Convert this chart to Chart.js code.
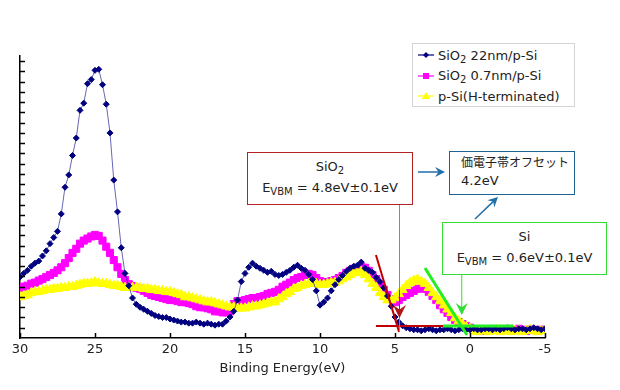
<!DOCTYPE html>
<html>
<head>
<meta charset="utf-8">
<script src="https://cdn.jsdelivr.net/npm/chart.js@4.4.0/dist/chart.umd.min.js"></script>
<style>
body { margin: 0; background: #fff; }
#wrap { position: relative; width: 620px; height: 390px; font-family: 'DejaVu Sans', 'Noto Sans CJK JP', sans-serif; color: #222; }
#chart { position: absolute; left: 0; top: 0; }
.box { position: absolute; background: #fff; box-sizing: border-box; font-size: 13px; line-height: 21px; }
.box sub { font-size: 10px; vertical-align: -3px; line-height: 0; }
#legend { left: 412px; top: 43px; width: 163px; height: 64px; border: 1px solid #d4d4d4; padding-top: 1px; }
#legend .row { height: 20.5px; display: flex; align-items: center; white-space: nowrap; }
#legend svg { margin: 0 4px 0 5px; }
#boxSio2 { left: 247px; top: 152px; width: 166px; height: 53px; border: 1.5px solid #b22222; text-align: center; padding-top: 3px; }
#boxOffset { left: 449px; top: 151px; width: 126px; height: 44px; border: 1.5px solid #1f6391; padding: 1px 0 0 11px; line-height: 18px; }
#boxOffset .jp { font-family: 'Noto Sans CJK JP', sans-serif; font-size: 12px; }
#boxSi { left: 442px; top: 222px; width: 165px; height: 53px; border: 1.5px solid #33dd33; text-align: center; padding-top: 3px; }
</style>
</head>
<body>
<div id="wrap">
  <canvas id="chart" width="620" height="390"></canvas>
  <div class="box" id="legend"></div>
  <div class="box" id="boxSio2">SiO<sub>2</sub><br>E<sub>VBM</sub> = 4.8eV±0.1eV</div>
  <div class="box" id="boxOffset"><span class="jp">価電子帯オフセット</span><br>4.2eV</div>
  <div class="box" id="boxSi">Si<br>E<sub>VBM</sub> = 0.6eV±0.1eV</div>
</div>
<script>
// binding energy (eV), pasos de 0.25 eV
const energia = [
  30, 29.75, 29.5, 29.25, 29, 28.75, 28.5, 28.25, 28, 27.75,
  27.5, 27.25, 27, 26.75, 26.5, 26.25, 26, 25.75, 25.5, 25.25,
  25, 24.75, 24.5, 24.25, 24, 23.75, 23.5, 23.25, 23, 22.75,
  22.5, 22.25, 22, 21.75, 21.5, 21.25, 21, 20.75, 20.5, 20.25,
  20, 19.75, 19.5, 19.25, 19, 18.75, 18.5, 18.25, 18, 17.75,
  17.5, 17.25, 17, 16.75, 16.5, 16.25, 16, 15.75, 15.5, 15.25,
  15, 14.75, 14.5, 14.25, 14, 13.75, 13.5, 13.25, 13, 12.75,
  12.5, 12.25, 12, 11.75, 11.5, 11.25, 11, 10.75, 10.5, 10.25,
  10, 9.75, 9.5, 9.25, 9, 8.75, 8.5, 8.25, 8, 7.75,
  7.5, 7.25, 7, 6.75, 6.5, 6.25, 6, 5.75, 5.5, 5.25,
  5, 4.75, 4.5, 4.25, 4, 3.75, 3.5, 3.25, 3, 2.75,
  2.5, 2.25, 2, 1.75, 1.5, 1.25, 1, 0.75, 0.5, 0.25,
  0, -0.25, -0.5, -0.75, -1, -1.25, -1.5, -1.75, -2, -2.25,
  -2.5, -2.75, -3, -3.25, -3.5, -3.75, -4, -4.25, -4.5, -4.75,
  -5];

// intensidades (unidades arbitrarias)
const sio2_22nm = [
  5.95, 6.3, 6.6, 7.0, 7.3, 7.5, 8.0, 8.5, 9.2, 9.8,
  10.4, 12.1, 14.7, 15.9, 17.8, 19.5, 22.2, 22.9, 24.8, 25.2,
  26.1, 26.2, 24.7, 22.8, 20.0, 15.4, 12.3, 8.8, 6.3, 5.1,
  3.9, 3.3, 3.0, 2.8, 2.6, 2.4, 2.2, 2.1, 2.0, 2.0,
  1.85, 1.75, 1.65, 1.55, 1.55, 1.45, 1.45, 1.55, 1.45, 1.35,
  1.45, 1.35, 1.25, 1.35, 1.35, 1.65, 2.05, 2.6, 3.7, 5.5,
  6.3, 6.9, 7.3, 7.0, 6.8, 6.6, 6.4, 6.5, 6.2, 6.1,
  6.2, 6.4, 6.6, 6.9, 7.1, 6.8, 6.6, 6.2, 5.7, 4.6,
  3.2, 3.5, 3.9, 4.6, 5.2, 5.7, 6.1, 6.5, 6.8, 7.0,
  7.1, 7.4, 6.8, 6.6, 6.4, 5.9, 5.5, 4.9, 4.1, 3.1,
  2.05, 1.55, 1.2, 1.0, 0.9, 0.8, 0.8, 0.7, 0.8, 0.9,
  0.8, 0.7, 0.8, 0.8, 0.9, 0.8, 0.7, 0.8, 0.9, 0.8,
  0.8, 0.9, 0.8, 0.8, 0.9, 0.9, 0.8, 0.9, 0.8, 0.9,
  1.0, 0.9, 0.8, 0.9, 0.9, 0.8, 0.9, 1.0, 0.9, 0.8,
  0.9];

const sio2_07nm = [
  4.9, 5.0, 5.1, 5.3, 5.4, 5.6, 5.75, 5.95, 6.15, 6.35,
  6.6, 6.9, 7.3, 7.8, 8.3, 8.7, 9.2, 9.5, 9.7, 9.9,
  10.05, 9.95, 9.5, 8.9, 8.3, 7.6, 6.9, 6.25, 5.65, 5.25,
  5.05, 4.9, 4.8, 4.6, 4.4, 4.2, 4.1, 4.0, 3.9, 3.8,
  3.7, 3.7, 3.6, 3.5, 3.5, 3.4, 3.3, 3.1, 3.0, 3.0,
  2.9, 2.8, 2.6, 2.6, 2.5, 2.5, 2.6, 3.3, 3.6, 3.6,
  3.7, 3.8, 3.9, 3.9, 4.0, 4.1, 4.3, 4.4, 4.5, 4.7,
  5.0, 5.2, 5.4, 5.65, 5.85, 5.95, 6.15, 6.25, 6.15, 5.85,
  5.55, 5.45, 5.45, 5.55, 5.65, 5.85, 6.05, 6.35, 6.55, 6.75,
  6.85, 6.95, 6.85, 6.55, 6.15, 5.75, 5.2, 4.7, 4.2, 3.8,
  3.5, 3.7, 4.0, 4.2, 4.4, 4.6, 4.8, 4.9, 4.8, 4.5,
  4.1, 3.7, 3.2, 2.8, 2.45, 2.05, 1.75, 1.55, 1.35, 1.15,
  1.0, 0.8, 0.8, 0.7, 0.8, 0.7, 0.8, 0.8, 0.7, 0.8,
  0.8, 0.7, 0.8, 0.9, 0.8, 0.7, 0.8, 0.8, 0.7, 0.8,
  0.8];

const pSi_H = [
  4.0, 4.1, 4.2, 4.4, 4.5, 4.5, 4.6, 4.7, 4.7, 4.8,
  4.8, 4.9, 4.9, 5.0, 5.0, 5.1, 5.2, 5.3, 5.3, 5.35,
  5.45, 5.35, 5.3, 5.3, 5.2, 5.1, 5.1, 5.0, 4.9, 4.9,
  4.9, 4.9, 4.9, 4.8, 4.8, 4.7, 4.7, 4.6, 4.6, 4.5,
  4.5, 4.4, 4.3, 4.2, 4.0, 4.0, 3.9, 3.8, 3.7, 3.6,
  3.5, 3.5, 3.4, 3.3, 3.2, 3.1, 3.0, 3.0, 2.9, 2.9,
  2.9, 3.0, 3.1, 3.1, 3.2, 3.3, 3.4, 3.5, 3.5, 3.8,
  4.0, 4.3, 4.5, 4.8, 4.9, 5.1, 5.2, 5.3, 5.4, 5.3,
  5.2, 5.2, 5.3, 5.4, 5.4, 5.55, 5.75, 5.95, 6.15, 6.35,
  6.35, 6.45, 6.15, 5.75, 5.3, 4.9, 4.4, 4.0, 3.7, 3.7,
  3.9, 4.3, 4.7, 5.1, 5.4, 5.6, 5.7, 5.5, 5.3, 4.9,
  4.4, 4.0, 3.6, 3.2, 2.8, 2.45, 1.95, 1.65, 1.35, 1.05,
  0.9, 0.7, 0.6, 0.7, 0.7, 0.6, 0.7, 0.8, 0.6, 0.7,
  0.7, 0.6, 0.7, 0.7, 0.6, 0.7, 0.8, 0.7, 0.6, 0.7,
  0.7];

// rectas de extrapolacion (VBM)
const rojaX = [6.27, 4.73];
const rojaY = [8.1, 0.6];
const rojaBaseX = [6.27, 1.8];
const rojaBaseY = [1.17, 1.17];
const verdeX = [3.0, 0.2];
const verdeY = [6.83, 0.3];
const verdeBaseX = [1.8, -2.87];
const verdeBaseY = [1.17, 1.17];

const xTicks = [30, 25, 20, 15, 10, 5, 0, -5];

function puntos(xs, ys) {
    return xs.map((x, i) => ({ x: x, y: ys[i] }));
}

const series = [
    { label: 'SiO₂ 22nm/p-Si', data: sio2_22nm, color: '#000080', line: 'rgba(0,0,128,0.6)', style: 'rectRot', radius: 3, order: 1 },
    { label: 'SiO₂ 0.7nm/p-Si', data: sio2_07nm, color: '#ff00ff', line: '#ff00ff', style: 'rect', radius: 5, order: 3 },
    { label: 'p-Si(H-terminated)', data: pSi_H, color: '#ffff00', line: '#ffff00', style: 'triangle', radius: 5.5, order: 2 }
];

const datasets = series.map(s => ({
    label: s.label,
    data: puntos(energia, s.data),
    borderColor: s.line,
    backgroundColor: s.color,
    pointBorderColor: s.color,
    pointBackgroundColor: s.color,
    pointStyle: s.style,
    pointRadius: s.radius,
    borderWidth: 1,
    tension: 0,
    order: s.order
}));

datasets.push(
    { data: puntos(rojaX, rojaY), borderColor: '#c00000', borderWidth: 2, pointRadius: 0, order: 0 },
    { data: puntos(rojaBaseX, rojaBaseY), borderColor: '#c00000', borderWidth: 2, pointRadius: 0, order: 0 },
    { data: puntos(verdeX, verdeY), borderColor: '#22ee22', borderWidth: 3, pointRadius: 0, order: 0 },
    { data: puntos(verdeBaseX, verdeBaseY), borderColor: '#22ee22', borderWidth: 3, pointRadius: 0, order: 0 }
);

// flecha con punta rellena
function flecha(ctx, x1, y1, x2, y2, color, ancho, punta) {
    const ang = Math.atan2(y2 - y1, x2 - x1);
    ctx.save();
    ctx.strokeStyle = color;
    ctx.fillStyle = color;
    ctx.lineWidth = ancho;
    ctx.beginPath();
    ctx.moveTo(x1, y1);
    ctx.lineTo(x2 - Math.cos(ang) * punta * 0.6, y2 - Math.sin(ang) * punta * 0.6);
    ctx.stroke();
    ctx.translate(x2, y2);
    ctx.rotate(ang);
    ctx.beginPath();
    ctx.moveTo(0, 0);
    ctx.lineTo(-punta, -punta * 0.5);
    ctx.lineTo(-punta * 0.65, 0);
    ctx.lineTo(-punta, punta * 0.5);
    ctx.closePath();
    ctx.fill();
    ctx.restore();
}

const anotaciones = {
    id: 'anotaciones',
    afterDatasetsDraw(chart) {
        const ctx = chart.ctx;
        const area = chart.chartArea;
        const xs = chart.scales.x;
        const ys = chart.scales.y;

        // marcas de los ejes hacia adentro
        ctx.save();
        ctx.strokeStyle = '#000';
        ctx.lineWidth = 1.5;
        ys.ticks.forEach(t => {
            if (t.value === 0) return;
            const y = Math.round(ys.getPixelForValue(t.value)) + 0.5;
            ctx.beginPath();
            ctx.moveTo(area.left, y);
            ctx.lineTo(area.left + 5, y);
            ctx.stroke();
        });
        xTicks.forEach(v => {
            const x = Math.round(xs.getPixelForValue(v)) + 0.5;
            ctx.beginPath();
            ctx.moveTo(x, area.bottom);
            ctx.lineTo(x, area.bottom - 5);
            ctx.stroke();
        });
        ctx.restore();

        // linea vertical roja SiO2
        const xr = xs.getPixelForValue(4.7);
        ctx.save();
        ctx.strokeStyle = '#e06666';
        ctx.lineWidth = 1;
        ctx.beginPath();
        ctx.moveTo(xr, 205);
        ctx.lineTo(xr, ys.getPixelForValue(0.6));
        ctx.stroke();
        ctx.restore();
        flecha(ctx, xr, 290, xr, 318, '#b01818', 1, 13);

        // linea vertical verde Si
        const xg = xs.getPixelForValue(0.55);
        flecha(ctx, xg, 275, xg, 315, '#33dd33', 1, 12);

        // flechas azules hacia la caja de offset
        flecha(ctx, 418, 172, 445, 172, '#1f6fa8', 1.5, 10);
        flecha(ctx, 475, 219, 498, 197, '#1f6fa8', 1.5, 10);
    }
};

function marcador(s) {
    let m = '';
    if (s.style === 'rectRot') m = '<polygon points="8,3 11,6 8,9 5,6" fill="' + s.color + '"/>';
    if (s.style === 'rect') m = '<rect x="5" y="3" width="6" height="6" fill="' + s.color + '"/>';
    if (s.style === 'triangle') m = '<polygon points="8,2 12,9 4,9" fill="' + s.color + '"/>';
    return '<svg width="16" height="12"><line x1="0" y1="6" x2="16" y2="6" stroke="' + s.color + '" stroke-width="1.2"/>' + m + '</svg>';
}

function initLegend() {
    const nombres = ['SiO<sub>2</sub> 22nm/p-Si', 'SiO<sub>2</sub> 0.7nm/p-Si', 'p-Si(H-terminated)'];
    document.getElementById('legend').innerHTML = series.map((s, i) =>
        '<div class="row">' + marcador(s) + '<span>' + nombres[i] + '</span></div>').join('');
}

function initChart() {
    new Chart(document.getElementById('chart'), {
        type: 'line',
        data: { datasets: datasets },
        options: {
            responsive: false,
            animation: false,
            layout: { padding: { left: 20, right: 75, top: 56, bottom: 0 } },
            plugins: { legend: { display: false }, tooltip: { enabled: false } },
            scales: {
                x: {
                    type: 'linear',
                    reverse: true,
                    min: -5,
                    max: 30,
                    afterFit(s) { s.height = 52; },
                    afterBuildTicks(s) { s.ticks = xTicks.map(v => ({ value: v })); },
                    grid: { display: false, drawTicks: false },
                    border: { display: true, color: '#000', width: 1.5 },
                    ticks: { color: '#222', font: { family: 'DejaVu Sans', size: 13 }, padding: 4, maxRotation: 0 },
                    title: { display: true, text: 'Binding Energy(eV)', color: '#222', font: { family: 'DejaVu Sans', size: 13 }, padding: { top: 0, bottom: 14 } }
                },
                y: {
                    min: 0,
                    max: 27.5,
                    afterFit(s) { s.width = 0; },
                    grid: { display: false, drawTicks: false },
                    border: { display: true, color: '#000', width: 1.5 },
                    ticks: { display: false, stepSize: 1, includeBounds: false }
                }
            }
        },
        plugins: [anotaciones]
    });
}

initLegend();
initChart();
</script>
</body>
</html>
